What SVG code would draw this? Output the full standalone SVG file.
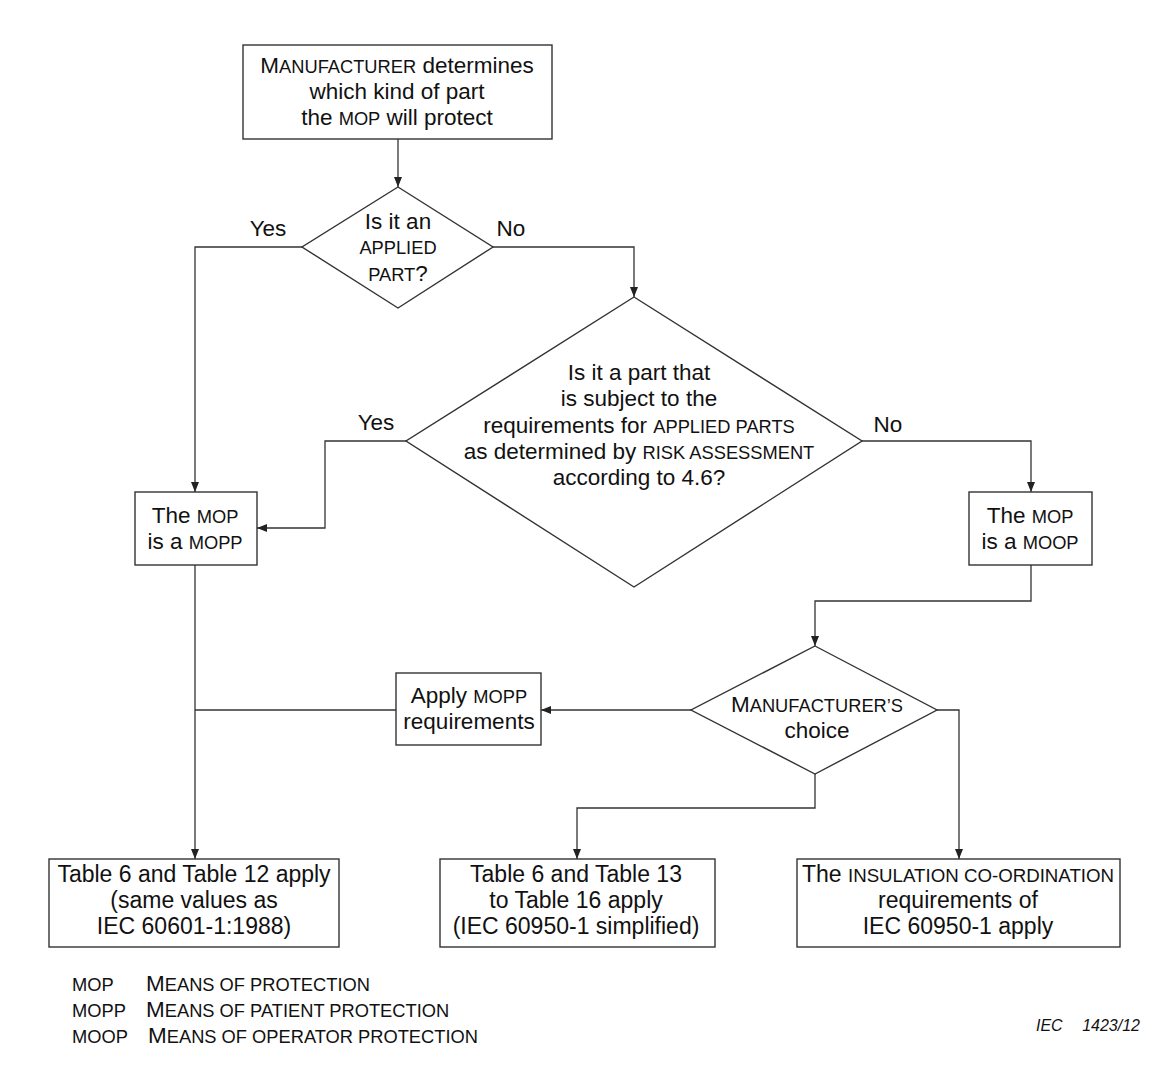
<svg xmlns="http://www.w3.org/2000/svg" width="1161" height="1084" viewBox="0 0 1161 1084">
<defs>
<style>
.n{fill:#fff;stroke:#333;stroke-width:1.4}
.c{fill:none;stroke:#333;stroke-width:1.3}
text{font-family:"Liberation Sans",Arial,sans-serif;font-size:22.5px;fill:#111;text-anchor:middle}
.sc{font-size:18.3px}
.b{font-size:23px}
.b .sc{font-size:18.7px}
.lg{text-anchor:start;font-size:22.5px}
.lgs{font-size:18.3px}
</style>
<marker id="a" viewBox="0 0 10 8" refX="10" refY="4" markerWidth="10" markerHeight="8" markerUnits="userSpaceOnUse" orient="auto">
<path d="M0,0 L10,4 L0,8 Z" fill="#222"/>
</marker>
</defs>
<rect width="1161" height="1084" fill="#fff"/>
<g id="connectors">
<path class="c" d="M398,139 V187" marker-end="url(#a)"/>
<path class="c" d="M302,247 H195 V492" marker-end="url(#a)"/>
<path class="c" d="M493,247 H634 V297" marker-end="url(#a)"/>
<path class="c" d="M406,441 H325 V528 H257" marker-end="url(#a)"/>
<path class="c" d="M862,441 H1031 V492" marker-end="url(#a)"/>
<path class="c" d="M1031,565 V601 H815 V646" marker-end="url(#a)"/>
<path class="c" d="M691,710 H541" marker-end="url(#a)"/>
<path class="c" d="M396,710 H195"/>
<path class="c" d="M195,565 V859" marker-end="url(#a)"/>
<path class="c" d="M815,774 V808 H577 V859" marker-end="url(#a)"/>
<path class="c" d="M937,710 H959 V859" marker-end="url(#a)"/>
</g>
<g id="start">
<rect class="n" x="243" y="45" width="309" height="94"/>
<text x="397" y="73">M<tspan class="sc">ANUFACTURER</tspan> determines</text>
<text x="397" y="99">which kind of part</text>
<text x="397" y="125">the <tspan class="sc">MOP</tspan> will protect</text>
</g>
<g id="d1">
<polygon class="n" points="398,187 493,247 398,308 302,247"/>
<text x="398" y="229">Is it an</text>
<text x="398" y="254" class="sc">APPLIED</text>
<text x="398" y="281"><tspan class="sc">PART</tspan>?</text>
</g>
<g id="labels">
<text x="268" y="236">Yes</text>
<text x="511" y="236">No</text>
<text x="376" y="430">Yes</text>
<text x="888" y="432">No</text>
</g>
<g id="d2">
<polygon class="n" points="634,297 862,441 634,587 406,441"/>
<text x="639" y="380">Is it a part that</text>
<text x="639" y="406">is subject to the</text>
<text x="639" y="433">requirements for <tspan class="sc">APPLIED PARTS</tspan></text>
<text x="639" y="459">as determined by <tspan class="sc">RISK ASSESSMENT</tspan></text>
<text x="639" y="485">according to 4.6?</text>
</g>
<g id="mopp">
<rect class="n" x="135" y="492" width="122" height="73"/>
<text x="195" y="523">The <tspan class="sc">MOP</tspan></text>
<text x="195" y="549">is a <tspan class="sc">MOPP</tspan></text>
</g>
<g id="moop">
<rect class="n" x="969" y="492" width="123" height="73"/>
<text x="1030" y="523">The <tspan class="sc">MOP</tspan></text>
<text x="1030" y="549">is a <tspan class="sc">MOOP</tspan></text>
</g>
<g id="d3">
<polygon class="n" points="815,646 937,710 815,774 691,710"/>
<text x="817" y="712">M<tspan class="sc">ANUFACTURER’S</tspan></text>
<text x="817" y="738">choice</text>
</g>
<g id="apply">
<rect class="n" x="396" y="673" width="145" height="72"/>
<text x="469" y="703">Apply <tspan class="sc">MOPP</tspan></text>
<text x="469" y="729">requirements</text>
</g>
<g id="out1">
<rect class="n" x="49" y="859" width="290" height="88"/>
<text class="b" x="194" y="882">Table 6 and Table 12 apply</text>
<text class="b" x="194" y="908">(same values as</text>
<text class="b" x="194" y="934">IEC 60601-1:1988)</text>
</g>
<g id="out2">
<rect class="n" x="440" y="859" width="275" height="88"/>
<text class="b" x="576" y="882">Table 6 and Table 13</text>
<text class="b" x="576" y="908">to Table 16 apply</text>
<text class="b" x="576" y="934">(IEC 60950-1 simplified)</text>
</g>
<g id="out3">
<rect class="n" x="797" y="859" width="323" height="88"/>
<text class="b" x="958" y="882">The <tspan class="sc">INSULATION CO-ORDINATION</tspan></text>
<text class="b" x="958" y="908">requirements of</text>
<text class="b" x="958" y="934">IEC 60950-1 apply</text>
</g>
<g id="legend">
<text class="lg" x="72" y="991"><tspan class="lgs">MOP</tspan></text>
<text class="lg" x="146" y="991">M<tspan class="lgs">EANS OF PROTECTION</tspan></text>
<text class="lg" x="72" y="1017"><tspan class="lgs">MOPP</tspan></text>
<text class="lg" x="146" y="1017">M<tspan class="lgs">EANS OF PATIENT PROTECTION</tspan></text>
<text class="lg" x="72" y="1043"><tspan class="lgs">MOOP</tspan></text>
<text class="lg" x="148" y="1043">M<tspan class="lgs">EANS OF OPERATOR PROTECTION</tspan></text>
<text x="1036" y="1031" style="text-anchor:start;font-style:italic;font-size:16px">IEC</text>
<text x="1140" y="1031" style="text-anchor:end;font-style:italic;font-size:16px">1423/12</text>
</g>
</svg>
